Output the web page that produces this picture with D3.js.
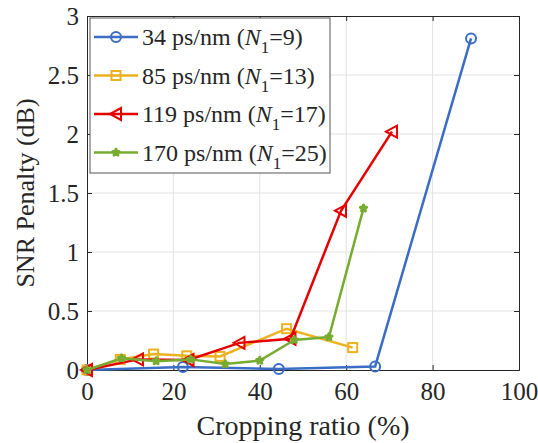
<!DOCTYPE html>
<html>
<head>
<meta charset="utf-8">
<script src="https://cdn.jsdelivr.net/npm/d3@7"></script>
<style>
  body { margin: 0; background: #fff; }
  svg text { font-family: "Liberation Serif", "Times New Roman", serif; fill: #262626; }
</style>
</head>
<body>
<svg id="chart" width="538" height="443"></svg>
<script>
// tick values
var xTicks = [0, 20, 40, 60, 80, 100];
var yTicks = [0, 0.5, 1, 1.5, 2, 2.5, 3];

// series: [cropping ratio %, penalty dB]
var blue34 = [[0, 0], [22.2, 0.025], [44.4, 0.008], [66.7, 0.03], [88.9, 2.81]];
var yellow85 = [[0, 0], [7.7, 0.09], [15.4, 0.135], [23.1, 0.12], [30.8, 0.115], [46.2, 0.35], [61.5, 0.19]];
var red119 = [[0, 0], [11.8, 0.09], [23.5, 0.085], [35.3, 0.23], [47.1, 0.265], [58.8, 1.35], [70.6, 2.02]];
var green170 = [[0, 0], [8, 0.1], [16, 0.075], [24, 0.09], [32, 0.05], [40, 0.08], [48, 0.255], [56, 0.28], [64, 1.37]];

var seriesNames = ["34 ps/nm (", "85 ps/nm (", "119 ps/nm (", "170 ps/nm ("];
var seriesN1 = ["=9)", "=13)", "=17)", "=25)"];

var series = [
    {data: blue34, color: "#3A6DC3", marker: "circle"},
    {data: yellow85, color: "#EDB120", marker: "square"},
    {data: red119, color: "#E50000", marker: "triangle"},
    {data: green170, color: "#77AC30", marker: "star"}
];

var svg = d3.select("#chart");
var plotL = 87, plotR = 519, plotT = 16, plotB = 370;

var x = d3.scaleLinear().domain([0, 100]).range([plotL, plotR]);
var y = d3.scaleLinear().domain([0, 3]).range([plotB, plotT]);

// grid
var grid = svg.append("g");
grid.selectAll(".gx").data(xTicks.slice(1, -1)).enter().append("line")
    .attr("x1", d => x(d)).attr("x2", d => x(d))
    .attr("y1", plotT).attr("y2", plotB)
    .attr("stroke", "#e3e3e3").attr("stroke-width", 1);
grid.selectAll(".gy").data(yTicks.slice(1, -1)).enter().append("line")
    .attr("x1", plotL).attr("x2", plotR)
    .attr("y1", d => y(d)).attr("y2", d => y(d))
    .attr("stroke", "#e3e3e3").attr("stroke-width", 1);

// axes, ticks pointing inward
var xAxis = svg.append("g").attr("transform", "translate(0," + plotB + ")")
    .call(d3.axisBottom(x).tickValues(xTicks).tickSize(-5).tickPadding(12).tickFormat(d3.format("d")));
var yAxis = svg.append("g").attr("transform", "translate(" + plotL + ",0)")
    .call(d3.axisLeft(y).tickValues(yTicks).tickSize(-5).tickPadding(8).tickFormat(d => d));
svg.append("g").attr("transform", "translate(0," + plotT + ")")
    .call(d3.axisTop(x).tickValues(xTicks).tickSize(-5).tickFormat(""));
svg.append("g").attr("transform", "translate(" + plotR + ",0)")
    .call(d3.axisRight(y).tickValues(yTicks).tickSize(-5).tickFormat(""));

svg.selectAll(".domain").attr("stroke", "#262626");
svg.selectAll(".tick line").attr("stroke", "#262626");
xAxis.selectAll("text").style("font-size", "25px").attr("fill", "#262626");
yAxis.selectAll("text").style("font-size", "25px").attr("fill", "#262626").attr("dy", "0.34em");

// axis titles
svg.append("text").attr("x", (plotL + plotR) / 2).attr("y", 435)
    .attr("text-anchor", "middle").style("font-size", "28px").text("Cropping ratio (%)");
svg.append("text").attr("transform", "translate(34," + ((plotT + plotB) / 2) + ") rotate(-90)")
    .attr("text-anchor", "middle").style("font-size", "26px").text("SNR Penalty (dB)");

function drawMarker(g, kind, color, cx, cy) {
    if (kind === "circle") {
        g.append("circle").attr("cx", cx).attr("cy", cy).attr("r", 5)
            .attr("fill", "none").attr("stroke", color).attr("stroke-width", 2);
    } else if (kind === "square") {
        g.append("rect").attr("x", cx - 4.5).attr("y", cy - 4.5).attr("width", 9).attr("height", 9)
            .attr("fill", "none").attr("stroke", color).attr("stroke-width", 2);
    } else if (kind === "triangle") {
        g.append("path").attr("d", "M" + (cx - 6) + "," + cy + "L" + (cx + 5) + "," + (cy - 6) + "L" + (cx + 5) + "," + (cy + 6) + "Z")
            .attr("fill", "none").attr("stroke", color).attr("stroke-width", 2);
    } else {
        g.append("path").attr("transform", "translate(" + cx + "," + cy + ")")
            .attr("d", d3.symbol().type(d3.symbolStar).size(12)())
            .attr("fill", color).attr("stroke", color).attr("stroke-width", 3)
            .attr("stroke-linejoin", "round");
    }
}

var line = d3.line().x(d => x(d[0])).y(d => y(d[1]));
series.forEach(function(s) {
    var g = svg.append("g");
    g.append("path").datum(s.data).attr("d", line)
        .attr("fill", "none").attr("stroke", s.color).attr("stroke-width", 2.5);
    s.data.forEach(function(d) {
        drawMarker(g, s.marker, s.color, x(d[0]), y(d[1]));
    });
});

// legend
var leg = svg.append("g");
leg.append("rect").attr("x", 90).attr("y", 18).attr("width", 240).attr("height", 155)
    .attr("fill", "#fff").attr("stroke", "#555").attr("stroke-width", 1);
series.forEach(function(s, i) {
    var ly = 37 + i * 38.5;
    leg.append("line").attr("x1", 94).attr("x2", 138).attr("y1", ly).attr("y2", ly)
        .attr("stroke", s.color).attr("stroke-width", 2.5);
    drawMarker(leg, s.marker, s.color, 116, ly);
    var t = leg.append("text").attr("x", 142).attr("y", ly + 8).style("font-size", "24px");
    t.append("tspan").text(seriesNames[i]);
    t.append("tspan").style("font-style", "italic").text("N");
    t.append("tspan").attr("dy", 8).style("font-size", "17px").text("1");
    t.append("tspan").attr("dy", -8).text(seriesN1[i]);
});
</script>
</body>
</html>
